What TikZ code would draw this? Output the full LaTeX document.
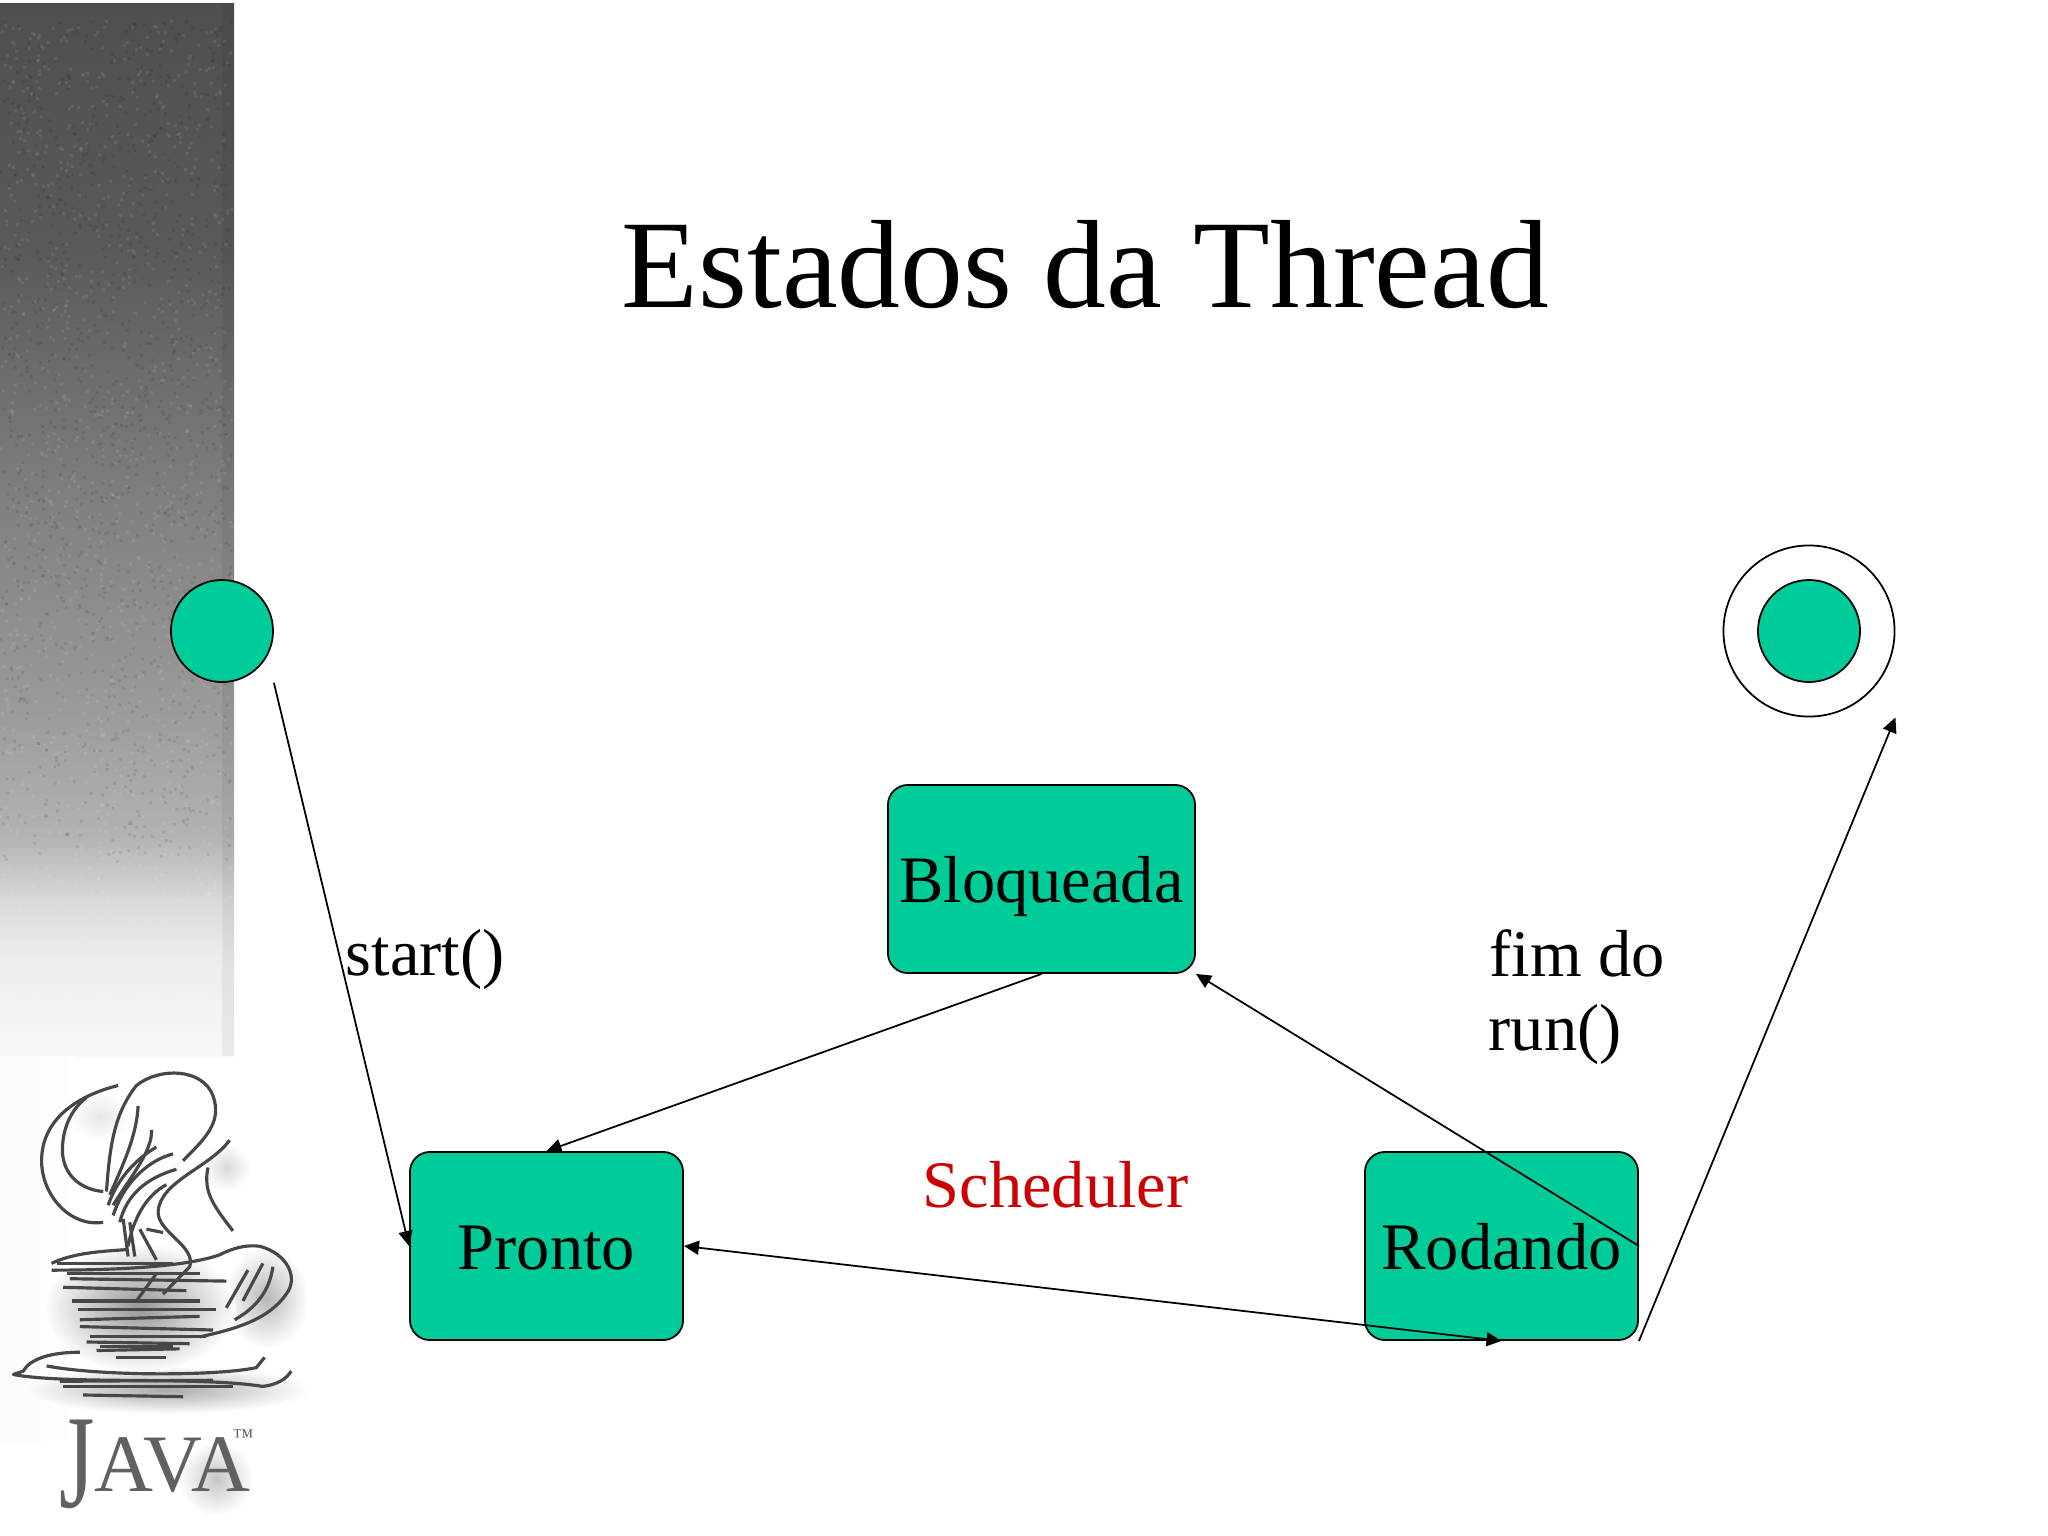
\documentclass[tikz,border=0pt]{standalone}
\usepackage{fontspec}
\setmainfont{Liberation Serif}
\usepackage{tikz}
\usetikzlibrary{arrows.meta}

\definecolor{verde}{HTML}{00CC99}
\definecolor{vermelho}{HTML}{CC0000}
\tikzset{
    estado/.style={draw,fill=verde,line width=0.5pt,rounded corners=0.2cm,minimum width=2.73cm,minimum height=1.88cm,inner sep=0pt,text height=0.47cm,text depth=0pt,font=\fontsize{18.9}{21.3}\selectfont},
    bola/.style={draw,fill=verde,circle,line width=0.5pt,minimum size=1.02cm,inner sep=0pt},
    rotulo/.style={anchor=base west,inner sep=0pt,font=\fontsize{18.9}{21.3}\selectfont},
    seta/.style={line width=0.5pt,-{Triangle[length=0.15cm,width=0.14cm]}},
    traco/.style={draw=black!72,line width=0.9pt,line join=round},
    marca/.style={text=black!62,inner sep=0pt,anchor=base west}
}

\begin{document}
\begin{tikzpicture}[x=0.01cm,y=-0.01cm]
    \useasboundingbox[fill=white](0,0)rectangle(2048,1536);

    % faixa cinza
    \foreach \ya/\yb/\ca/\cb in {3/250/69/65,250/500/65/50,500/700/50/40,700/836/40/30,836/900/30/15,900/960/15/7,960/1056/7/3}
        \shade[top color=black!\ca,bottom color=black!\cb,draw=none](0,\ya)rectangle(234,\yb);
    \fill[black,opacity=0.05](222,3)rectangle(234,1056);
    \shade[left color=black!2,right color=white](0,1056)rectangle(75,1440);
    \pgfmathsetseed{7}
    \foreach \i in {1,...,1200}{
        \pgfmathsetmacro{\px}{random(0,230)}
        \pgfmathsetmacro{\py}{random(20,1030)}
        \fill[white,opacity=0.08](\px,\py)rectangle(\px+2.5,\py+2.5);
        \pgfmathsetmacro{\qx}{random(0,230)}
        \pgfmathsetmacro{\qy}{random(20,860)}
        \fill[black,opacity=0.08](\qx,\qy)rectangle(\qx+2.5,\qy+2.5);
    }

    % logo
    \begin{scope}[shift={(0,1000)},x=0.00333cm,y=-0.00342cm]
        \shade[inner color=black!42,outer color=white,opacity=0.8](500,1140)ellipse(430 and 70);
        \shade[inner color=black!35,outer color=white,opacity=0.8](800,870)ellipse(125 and 150);
        \shade[inner color=black!18,outer color=white,opacity=0.8](680,490)ellipse(70 and 70);
        \shade[inner color=black!12,outer color=white,opacity=0.8](300,340)ellipse(90 and 70);
        \shade[inner color=black!45,outer color=white,opacity=0.9](420,900)ellipse(290 and 190);
        \shade[inner color=black!28,outer color=white,opacity=0.8](650,1400)ellipse(110 and 110);
        \foreach \traco in {
            {(355,250) .. controls (230,280) and (125,350) .. (125,470) .. controls (125,570) and (210,665) .. (310,650)},
            {(260,285) .. controls (200,330) and (185,400) .. (188,450) .. controls (195,520) and (250,555) .. (310,560)},
            {(320,560) .. controls (330,420) and (345,330) .. (410,250) .. controls (480,195) and (610,200) .. (640,280) .. controls (670,360) and (610,410) .. (550,470)},
            {(415,310) .. controls (410,400) and (370,480) .. (330,570)},
            {(455,380) .. controls (460,440) and (390,520) .. (340,600)},
            {(520,450) .. controls (440,470) and (370,540) .. (340,630)},
            {(530,495) .. controls (440,520) and (380,570) .. (360,650)},
            {(500,540) .. controls (440,570) and (400,640) .. (385,720)},
            {(470,430) .. controls (400,470) and (350,530) .. (325,600)},
            {(690,410) .. controls (630,490) and (480,530) .. (475,620) .. controls (475,680) and (590,720) .. (570,780) -- (490,860)},
            {(625,490) .. controls (610,560) and (640,600) .. (700,675)},
            {(370,640) -- (385,750)},{(390,650) -- (405,750)},{(420,670) -- (470,760)},{(440,670) -- (490,680)},{(410,880) -- (470,800)},
            {(155,770) .. controls (220,740) and (300,735) .. (380,730)},
            {(155,790) .. controls (350,790) and (560,780) .. (660,745) .. controls (700,725) and (740,715) .. (780,720) .. controls (860,740) and (900,810) .. (860,860) .. controls (810,930) and (720,960) .. (600,985)},
            {(745,790) -- (680,900)},{(790,770) -- (730,880)},{(820,780) .. controls (810,850) and (770,900) .. (705,935)},
            {(210,815) -- (680,822)},{(190,840) -- (560,850)},{(215,880) -- (600,880)},{(235,905) -- (650,905)},
            {(240,935) -- (600,925)},{(240,955) -- (640,965)},{(270,985) -- (620,985)},{(260,1000) -- (570,1005)},
            {(290,1025) -- (540,1020)},{(350,1045) -- (500,1045)},{(170,770) -- (520,770)},{(200,800) -- (600,800)},{(300,1012) -- (520,1012)},
            {(240,1030) .. controls (150,1030) and (90,1050) .. (70,1085) -- (40,1095) .. controls (200,1125) and (600,1100) .. (790,1130) .. controls (830,1125) and (860,1110) .. (875,1085)},
            {(140,1070) .. controls (300,1100) and (650,1100) .. (770,1075) -- (795,1045)},
            {(190,1130) -- (700,1130)},{(180,1115) -- (640,1112)},{(250,1155) -- (550,1160)}}
            \path[traco] \traco;
        \node[marca,font=\fontsize{38}{38}\selectfont,xscale=0.68,transform shape] (jota) at (176,1485) {J};
        \node[marca,font=\fontsize{23.2}{24}\selectfont] (ava) at (282,1436) {AVA};
        \node[marca,font=\fontsize{6}{6}\selectfont] (tm) at (698,1298) {™};
    \end{scope}

    \node[anchor=base west,inner sep=0pt,font=\fontsize{35.7}{40}\selectfont] (titulo) at (621,307) {Estados da Thread};

    \node[bola] (inicio) at (222,631) {};
    \node[draw,circle,line width=0.5pt,minimum size=1.71cm,inner sep=0pt] (fimborda) at (1809,631) {};
    \node[bola] (fim) at (1809,631) {};

    \node[estado] (pronto) at (546.5,1246) {Pronto};
    \node[estado,minimum width=3.07cm] (bloqueada) at (1041.5,879) {Bloqueada};
    \node[estado] (rodando) at (1501.5,1246) {Rodando};

    \coordinate (saida) at (inicio.east |- inicio.south);
    \coordinate (chegada) at (fimborda.east |- fimborda.south);

    \draw[seta](saida)--(pronto.west);
    \draw[seta](bloqueada.south)--(pronto.north);
    \draw[seta](rodando.east)--(bloqueada.south east);
    \draw[seta,{Triangle[length=0.15cm,width=0.14cm]}-{Triangle[length=0.15cm,width=0.14cm]}](pronto.east)--(rodando.south);
    \draw[seta](rodando.south east)--(chegada);

    \node[rotulo] (start) at (345,975) {start()};
    \node[rotulo] (fimdo) at (1489,976) {fim do};
    \node[rotulo] (run) at (1488,1050) {run()};
    \node[rotulo,text=vermelho] (scheduler) at (922,1207) {Scheduler};
\end{tikzpicture}
\end{document}
